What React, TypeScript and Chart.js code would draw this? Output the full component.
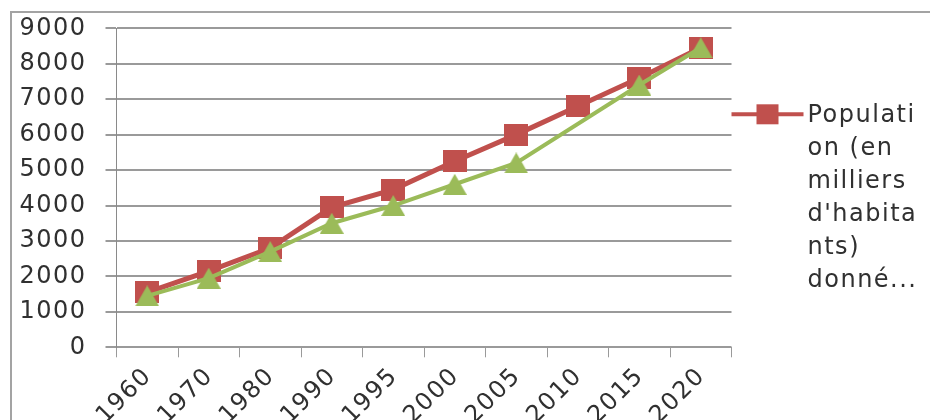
import React, { useEffect, useRef } from "react";
import { Chart, registerables } from "chart.js";

Chart.register(...registerables);

// Census years along the category axis
const years = ["1960", "1970", "1980", "1990", "1995", "2000", "2005", "2010", "2015", "2020"];

// Population in thousands of inhabitants
const populationMain = [1550, 2150, 2800, 3950, 4450, 5250, 6000, 6800, 7600, 8450];
const populationSecond = [1450, 1950, 2700, 3500, 4000, 4600, 5200, null, 7400, 8450];

// Value axis ticks
const yTickValues = [0, 1000, 2000, 3000, 4000, 5000, 6000, 7000, 8000, 9000];

// Legend entry text, wrapped as it is shown beside the plot
const legendLines = ["Populati", "on (en", "milliers", "d'habita", "nts)", "donné..."];

const RED = "#C0504D";
const GREEN = "#9BBB59";
const GRID = "#9a9a9a";
const TEXT = "#303030";
const FONT_FAMILY = "'DejaVu Sans', Verdana, sans-serif";
const FONT_SIZE = 24;
const SPACING = "1.5px";

function squareMarker(w: number, h: number, color: string) {
  const c = document.createElement("canvas");
  c.width = w;
  c.height = h;
  const g = c.getContext("2d")!;
  g.fillStyle = color;
  g.fillRect(0, 0, w, h);
  return c;
}

function triangleMarker(w: number, h: number, color: string) {
  const c = document.createElement("canvas");
  c.width = w;
  c.height = h;
  const g = c.getContext("2d")!;
  g.fillStyle = color;
  g.beginPath();
  g.moveTo(w / 2, 0);
  g.lineTo(w, h);
  g.lineTo(0, h);
  g.closePath();
  g.fill();
  return c;
}

const spacingPlugin = {
  id: "letterSpacing",
  beforeUpdate(chart: any) {
    chart.ctx.letterSpacing = SPACING;
  },
  beforeDraw(chart: any) {
    chart.ctx.letterSpacing = SPACING;
  },
};

const sideLegend = {
  id: "sideLegend",
  afterDraw(chart: any) {
    const { ctx, chartArea } = chart;
    const x0 = chartArea.right;
    const y0 = chartArea.top + 86;
    ctx.save();
    ctx.letterSpacing = SPACING;
    // marker line with square
    ctx.strokeStyle = RED;
    ctx.lineWidth = 4;
    ctx.beginPath();
    ctx.moveTo(x0, y0);
    ctx.lineTo(x0 + 72, y0);
    ctx.stroke();
    ctx.fillStyle = RED;
    ctx.fillRect(x0 + 25, y0 - 10, 22, 20);
    // wrapped label
    ctx.fillStyle = TEXT;
    ctx.font = `${FONT_SIZE}px ${FONT_FAMILY}`;
    ctx.textAlign = "left";
    ctx.textBaseline = "middle";
    legendLines.forEach((line, i) => {
      ctx.fillText(line, x0 + 76, y0 + 1 + i * 33);
    });
    ctx.restore();
  },
};

export default function App() {
  const canvasRef = useRef<HTMLCanvasElement | null>(null);

  useEffect(() => {
    if (!canvasRef.current) return;
    const font = { family: FONT_FAMILY, size: FONT_SIZE };
    const chart = new Chart(canvasRef.current, {
      type: "line",
      data: {
        labels: years,
        datasets: [
          {
            label: "Population (en milliers d'habitants) donné...",
            data: populationMain,
            borderColor: RED,
            backgroundColor: RED,
            borderWidth: 5,
            pointStyle: squareMarker(24, 22, RED) as any,
            pointRadius: 12,
            pointHoverRadius: 12,
            tension: 0,
            order: 2,
          },
          {
            label: "Série 2",
            data: populationSecond,
            borderColor: GREEN,
            backgroundColor: GREEN,
            borderWidth: 4,
            pointStyle: triangleMarker(24, 21, GREEN) as any,
            pointRadius: 12,
            pointHoverRadius: 12,
            tension: 0,
            spanGaps: true,
            order: 1,
          },
        ],
      },
      options: {
        animation: false,
        responsive: false,
        devicePixelRatio: 1,
        layout: { padding: { left: 12, top: 28.3, right: 198.5, bottom: 0 } },
        plugins: {
          legend: { display: false },
          tooltip: { enabled: false },
          title: { display: false },
        },
        scales: {
          x: {
            type: "category",
            offset: true,
            grid: {
              offset: true,
              drawOnChartArea: false,
              drawTicks: true,
              tickLength: 10,
              color: GRID,
              lineWidth: 1,
            },
            border: { display: true, color: GRID, width: 1 },
            ticks: {
              autoSkip: false,
              minRotation: 45,
              maxRotation: 45,
              padding: 5,
              labelOffset: 1,
              color: TEXT,
              font,
            },
            afterFit: (s: any) => {
              s.height = 72.7;
              s.paddingLeft = 0;
              s.paddingRight = 0;
            },
          },
          y: {
            min: 0,
            max: 9000,
            afterBuildTicks: (s: any) => {
              s.ticks = yTickValues.map((v) => ({ value: v }));
            },
            grid: {
              drawTicks: true,
              tickLength: 11,
              color: GRID,
              lineWidth: 2,
            },
            border: { display: true, color: "#8a8a8a", width: 1 },
            ticks: {
              padding: 19,
              color: TEXT,
              font,
              callback: (v: any) => String(v),
            },
            afterFit: (s: any) => {
              s.width = 104.5;
              s.paddingTop = 0;
              s.paddingBottom = 0;
            },
          },
        },
      },
      plugins: [spacingPlugin, sideLegend],
    });
    return () => chart.destroy();
  }, []);

  return (
    <div
      style={{
        position: "fixed",
        left: 0,
        top: 0,
        width: 930,
        height: 420,
        overflow: "hidden",
        background: "#ffffff",
      }}
    >
      <canvas
        ref={canvasRef}
        width={930}
        height={420}
        style={{ position: "absolute", left: 0, top: 0, width: 930, height: 420 }}
      />
      <div
        style={{
          position: "absolute",
          left: 10,
          top: 11,
          width: 940,
          height: 430,
          borderLeft: "2px solid #a3a3a3",
          borderTop: "2px solid #a3a3a3",
          pointerEvents: "none",
        }}
      />
    </div>
  );
}
